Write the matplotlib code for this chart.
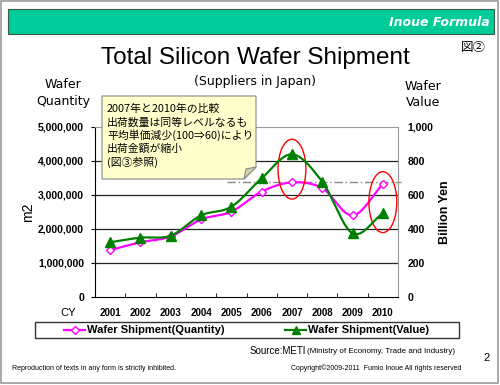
import numpy as np
import matplotlib
matplotlib.use('Agg')
import matplotlib.pyplot as plt
from matplotlib.patches import Rectangle, Polygon, Ellipse
from matplotlib.lines import Line2D

years = ['2001', '2002', '2003', '2004', '2005', '2006', '2007', '2008', '2009', '2010']
quantity = [1380000, 1610000, 1780000, 2280000, 2510000, 3100000, 3370000, 3200000, 2400000, 3320000]
value = [322, 349, 361, 480, 531, 698, 839, 678, 375, 492]
qty_ticks = [0, 1000000, 2000000, 3000000, 4000000, 5000000]
val_ticks = [0, 200, 400, 600, 800, 1000]
note_lines = ['2007年と2010年の比較', '出荷数量は同等レベルなるも', '平均単価減少(100⇒60)により',
              '出荷金額が縮小', '(図③参照)']

PINK = '#FF00FF'
GREEN = '#008000'
JP = ['Noto Sans CJK JP', 'DejaVu Sans']
SANS = 'Liberation Sans'


def smooth(y, n=20):
    # Catmull-Rom curve through the points (like Excel's smoothed line)
    y = np.asarray(y, float)
    x = np.arange(len(y), dtype=float)
    px = np.concatenate([[2 * x[0] - x[1]], x, [2 * x[-1] - x[-2]]])
    py = np.concatenate([[2 * y[0] - y[1]], y, [2 * y[-1] - y[-2]]])
    xs, ys = [], []
    t = np.linspace(0, 1, n, endpoint=False)
    for i in range(1, len(px) - 2):
        for arr, out in ((px, xs), (py, ys)):
            p0, p1, p2, p3 = arr[i - 1:i + 3]
            out.extend(0.5 * (2 * p1 + (-p0 + p2) * t + (2 * p0 - 5 * p1 + 4 * p2 - p3) * t ** 2
                              + (-p0 + 3 * p1 - 3 * p2 + p3) * t ** 3))
    xs.append(x[-1]); ys.append(y[-1])
    return np.array(xs), np.array(ys)


W, H = 500, 385
fig = plt.figure(figsize=(W / 100, H / 100), dpi=100)
fig.patch.set_facecolor('white')

# main plot area
ax = fig.add_axes([95 / W, 1 - 297 / H, 303 / W, 170 / H])
x = np.arange(len(years))
ax.set_xlim(-0.5, len(years) - 0.5)
ax.set_ylim(0, 5000000)
ax.set_yticks(qty_ticks)
ax.set_yticklabels([f'{v:,}' for v in qty_ticks], fontfamily=SANS, fontweight='bold', fontsize=7.5)
ax.set_xticks(x)
ax.set_xticklabels(years, fontfamily=SANS, fontweight='bold', fontsize=7)
ax.set_xticks(np.arange(0.5, len(years) - 1, 1), minor=True)
ax.tick_params(axis='x', which='major', length=0, pad=8)
ax.tick_params(axis='x', which='minor', length=3, direction='in')
ax.tick_params(axis='y', length=3, direction='out', pad=5)
for v in qty_ticks[1:-1]:
    ax.axhline(v, color='#222222', lw=0.9, zorder=1)
ax.spines['top'].set_color('#999999')
ax.spines['right'].set_color('#999999')
ax.spines['left'].set_color('black')
ax.spines['bottom'].set_color('black')

ax2 = ax.twinx()
ax2.set_ylim(0, 1000)
ax2.set_yticks(val_ticks)
ax2.set_yticklabels([f'{v:,}' for v in val_ticks], fontfamily=SANS, fontweight='bold', fontsize=7.5)
ax2.tick_params(axis='y', length=0, pad=7)
for s in ax2.spines.values():
    s.set_visible(False)

# reference line at the 2007 quantity
ax.plot([3.85, 9.6], [quantity[6], quantity[6]], color='#888888', lw=1.0,
        linestyle=(0, (6, 2, 1, 2)), clip_on=False, zorder=2)

sx, sy = smooth(quantity)
ax.plot(sx, sy, color=PINK, lw=1.6, zorder=3)
ax.plot(x, quantity, linestyle='none', marker='D', ms=4.5, mfc='white', mec=PINK, mew=1.0, zorder=4)
vx, vy = smooth(value)
ax2.plot(vx, vy, color=GREEN, lw=1.6, zorder=3)
ax2.plot(x, value, linestyle='none', marker='^', ms=6.5, color=GREEN, zorder=4)

ax.add_patch(Ellipse((6, 3760000), 0.92, 1760000, fill=False, ec='red', lw=1.0, zorder=5))
ax.add_patch(Ellipse((9, 2790000), 0.92, 1790000, fill=False, ec='red', lw=1.0, zorder=5))

ax.set_ylabel('m2', fontfamily=SANS, fontsize=10, labelpad=2)
ax2.set_ylabel('Billion Yen', fontfamily=SANS, fontweight='bold', fontsize=9, labelpad=4)

# page decoration in pixel coordinates
ov = fig.add_axes([0, 0, 1, 1], zorder=10)
ov.set_xlim(0, W)
ov.set_ylim(H, 0)
ov.axis('off')
ov.patch.set_alpha(0)

ov.add_patch(Rectangle((1, 1), W - 3, H - 3, fill=False, ec='#9A9A9A', lw=1.2))
ov.add_patch(Rectangle((8, 9), 486, 25, fc='#00CC99', ec='#3A5A4A', lw=0.8))
ov.text(490, 22, 'Inoue Formula', color='white', fontsize=9, fontweight='bold', style='italic',
        fontfamily='DejaVu Sans', ha='right', va='center')
ov.text(473, 48, '図②', fontsize=9, fontfamily=JP, ha='center', va='center')

ov.text(255, 58, 'Total Silicon Wafer Shipment', fontsize=17.5, fontfamily=SANS,
        ha='center', va='center')
ov.text(255, 81, '(Suppliers in Japan)', fontsize=9, fontfamily='DejaVu Sans', ha='center', va='center')
ov.text(63, 93, 'Wafer\nQuantity', fontsize=9, fontfamily='DejaVu Sans', ha='center', va='center',
        linespacing=1.3)
ov.text(423, 95, 'Wafer\nValue', fontsize=9, fontfamily='DejaVu Sans', ha='center', va='center',
        linespacing=1.3)

# folded note
ov.add_patch(Polygon([(102, 96), (256, 96), (256, 167), (244, 179), (102, 179)],
                     closed=True, fc='#FFFFCC', ec='#888888', lw=0.8))
ov.add_patch(Polygon([(244, 179), (246, 169), (256, 167)], closed=True, fc='#D6D6A8', ec='#888888', lw=0.8))
for i, line in enumerate(note_lines):
    ov.text(107, 109 + i * 13.3, line, fontsize=7.8, fontfamily=JP, ha='left', va='center')

ov.text(68, 313, 'CY', fontsize=8, fontfamily=SANS, ha='center', va='center')

# legend box
ov.add_patch(Rectangle((35, 322), 424, 16, fill=False, ec='#333333', lw=1.0))
ov.add_line(Line2D([64, 85], [330, 330], color=PINK, lw=1.6))
ov.plot([74.5], [330], marker='D', ms=4.5, mfc='white', mec=PINK, mew=1.0)
ov.text(87, 330, 'Wafer Shipment(Quantity)', fontsize=8, fontweight='bold', fontfamily=SANS,
        ha='left', va='center')
ov.add_line(Line2D([285, 306], [330, 330], color=GREEN, lw=1.6))
ov.plot([295.5], [330], marker='^', ms=6, color=GREEN)
ov.text(308, 330, 'Wafer Shipment(Value)', fontsize=8, fontweight='bold', fontfamily=SANS,
        ha='left', va='center')

ov.text(306, 351, 'Source:METI', fontsize=7, fontfamily=SANS, ha='right', va='center')
ov.text(307, 351.5, '(Ministry of Economy, Trade and Industry)', fontsize=5.8, fontfamily=SANS,
        ha='left', va='center')
ov.text(487, 358, '2', fontsize=8, fontfamily=SANS, ha='center', va='center')
ov.text(12, 368, 'Reproduction of texts in any form is strictly inhibited.', fontsize=5,
        fontfamily=SANS, ha='left', va='center')
ov.text(461, 368, 'Copyright\u00a92009-2011  Fumio Inoue All rights reserved', fontsize=5,
        fontfamily=SANS, ha='right', va='center')

fig.savefig('out.png', dpi=100)
